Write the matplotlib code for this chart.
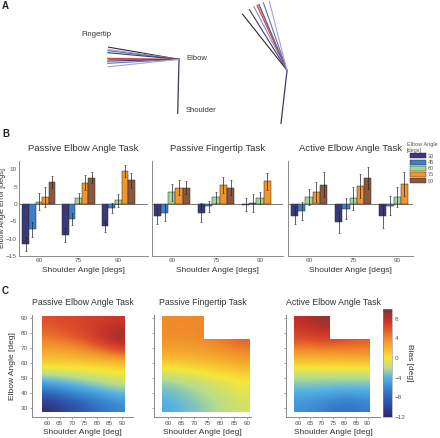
import numpy as np
import matplotlib
matplotlib.use("Agg")
import matplotlib.pyplot as plt
from matplotlib.colors import LinearSegmentedColormap
from matplotlib.patches import Patch, Polygon

plt.rcParams['font.family'] = ['Liberation Sans', 'DejaVu Sans']

W, H = 440, 438

# ---- data ----
shoulder_groups = ['60', '75', '90']
elbow_angles = ['30', '45', '60', '75', '90']
bar_colors = ['#3b3a78', '#3f7fc6', '#a6d49c', '#f0962c', '#8a5840']

# rows = shoulder angle group, cols = elbow angle
passive_elbow = [[-11.6, -7.3, 0.65, 2.1, 6.3],
                 [-9.0, -4.3, 1.7, 6.2, 7.6],
                 [-6.4, -1.1, 1.1, 9.5, 6.8]]
passive_elbow_err = [[2.0, 2.1, 2.4, 2.9, 1.7],
                     [2.0, 1.8, 1.5, 2.1, 1.5],
                     [1.6, 1.5, 1.9, 1.7, 2.2]]
passive_finger = [[-3.5, -2.5, 3.4, 4.7, 4.7],
                  [-2.5, -0.7, 1.9, 5.5, 4.7],
                  [-0.2, 0.3, 1.8, 6.5, np.nan]]
passive_finger_err = [[2.4, 2.4, 2.4, 2.1, 1.8],
                      [2.8, 1.5, 1.7, 2.2, 2.2],
                      [1.8, 2.5, 1.8, 2.4, np.nan]]
active_elbow = [[-3.4, -2.0, 2.0, 3.5, 5.6],
                [-5.2, -1.3, 1.6, 5.1, 7.5],
                [-3.5, -0.5, 2.1, 5.7, np.nan]]
active_elbow_err = [[2.5, 2.7, 2.2, 2.8, 3.5],
                    [3.3, 3.0, 3.2, 3.5, 3.1],
                    [3.3, 2.8, 2.9, 3.5, np.nan]]

# bias maps: rows elbow 90 -> 30 (step 10), cols shoulder 60 -> 90 (step 5)
bias_passive_elbow = [[6.0, 6.3, 6.5, 6.8, 7.0, 7.3, 7.5],
                      [4.8, 5.2, 5.8, 6.5, 7.5, 8.5, 9.3],
                      [2.8, 3.0, 3.3, 3.8, 4.5, 5.5, 6.5],
                      [1.0, 1.0, 1.0, 1.0, 1.0, 1.0, 1.2],
                      [-3.0, -2.6, -2.2, -1.8, -1.4, -1.0, -0.6],
                      [-7.0, -6.3, -5.6, -5.0, -4.4, -3.8, -3.2],
                      [-11.5, -10.5, -9.5, -8.5, -7.5, -6.8, -6.0]]
bias_passive_finger = [[4.0, 4.0, 4.0, 4.2, 4.5, 4.8, 5.0],
                       [3.8, 3.9, 4.0, 4.3, 4.8, 5.3, 5.8],
                       [3.0, 3.0, 3.1, 3.3, 3.6, 4.0, 4.4],
                       [1.0, 1.2, 1.4, 1.7, 2.0, 2.3, 2.6],
                       [-2.0, -1.6, -1.2, -0.8, -0.4, 0.0, 0.3],
                       [-3.5, -3.0, -2.5, -2.0, -1.5, -1.0, -0.5],
                       [-4.2, -3.7, -3.2, -2.6, -2.0, -1.5, -1.0]]
bias_active_elbow = [[8.0, 8.5, 9.0, 9.2, 9.2, 9.2, 9.2],
                     [6.5, 6.8, 7.2, 7.0, 6.5, 6.0, 5.5],
                     [4.0, 4.0, 4.1, 4.2, 4.3, 4.4, 4.5],
                     [1.0, 1.0, 1.0, 1.0, 1.0, 1.0, 1.0],
                     [-2.2, -2.2, -2.2, -2.2, -2.2, -2.2, -2.2],
                     [-4.0, -4.0, -4.1, -4.2, -4.3, -4.3, -4.2],
                     [-5.5, -5.8, -6.2, -6.8, -7.2, -7.0, -6.5]]

# arm postures (panel A), angles in degrees
left_upper_angle = 88.6
left_forearm_angles = [170.2, 172.0, 173.1, 174.7, 179.2, 180.0, 181.4, 183.2, 186.0]
left_colors = ['#2a2a2a', '#a9a2cf', '#6070b0', '#3a3a78', '#c84030', '#d06040',
               '#3a3a78', '#6070b0', '#a9a2cf']
right_upper_angle = 83.5
right_forearm_angles = [128.4, 121.8, 117.5, 114.8, 113.5, 113.0, 109.3, 104.4]
right_colors = ['#2a2a2a', '#3a3a78', '#8d88c4', '#c83a30', '#d06040',
                '#5566aa', '#6070b0', '#a9a2cf']

txt = '#333333'
tick_c = '#555555'
spine_c = '#8a8a8a'


def fr(x0, y0, x1, y1):
    return [x0 / W, 1 - y1 / H, (x1 - x0) / W, (y1 - y0) / H]


fig = plt.figure(figsize=(W / 100, H / 100), dpi=100)

# ---- panel A ----
axA = fig.add_axes([0, 0, 1, 1])
axA.set_xlim(0, W)
axA.set_ylim(H, 0)
axA.axis('off')
axA.set_zorder(-1)


def draw_arm(sx, sy, ua, fas, cols, ul=54, fl=71.5):
    ex = sx + ul * np.cos(np.radians(ua))
    ey = sy - ul * np.sin(np.radians(ua))
    axA.plot([sx, ex], [sy, ey], color='#3a3a6a', lw=0.9)
    for a, c in zip(fas, cols):
        fx = ex + fl * np.cos(np.radians(a))
        fy = ey - fl * np.sin(np.radians(a))
        axA.plot([ex, fx], [ey, fy], color=c, lw=0.8)
    return ex, ey


draw_arm(177.7, 113.3, left_upper_angle, left_forearm_angles, left_colors)
draw_arm(281, 123.3, right_upper_angle, right_forearm_angles, right_colors, ul=53.3)
axA.text(81, 35, 'Fingertip', fontsize=5.5, color=txt, va='center')
axA.text(186, 58, 'Elbow', fontsize=5.5, color=txt, va='center')
axA.text(186, 110, 'Shoulder', fontsize=5.5, color=txt, va='center')
for lab, y in [('A', 6), ('B', 134), ('C', 291)]:
    axA.text(2, y, lab, fontsize=7, fontweight='bold', color='#222222', va='center')

# ---- panel B ----
tasks = [('Passive Elbow Angle Task', passive_elbow, passive_elbow_err, fr(19, 160.7, 148, 256), (-0.5, 2.75)),
         ('Passive Fingertip Task', passive_finger, passive_finger_err, fr(152, 160.7, 283, 256), (-0.45, 2.52)),
         ('Active Elbow Angle Task', active_elbow, active_elbow_err, fr(288, 160.7, 413, 256), (-0.48, 2.36))]
bw = 0.165
x = np.arange(len(shoulder_groups))
for i, (title, vals, errs, pos, xl) in enumerate(tasks):
    ax = fig.add_axes(pos)
    vals = np.array(vals)
    errs = np.array(errs)
    ax.axhline(0, color='#7a7a7a', lw=0.7, zorder=1)
    for j in range(len(elbow_angles)):
        xx = x + (j - 2) * bw
        ax.bar(xx, vals[:, j], width=bw, color=bar_colors[j], edgecolor='#2a2a2a',
               linewidth=0.35, zorder=2)
        ax.errorbar(xx, vals[:, j], yerr=errs[:, j], fmt='none', ecolor='#222222',
                    elinewidth=0.5, capsize=1.0, capthick=0.4, zorder=3)
    ax.set_xlim(*xl)
    ax.set_ylim(-15, 12.5)
    ax.set_xticks(x)
    ax.set_xticklabels(shoulder_groups)
    ax.set_yticks([10, 5, 0, -5, -10, -15])
    for s in ['top', 'right']:
        ax.spines[s].set_visible(False)
    for s in ['left', 'bottom']:
        ax.spines[s].set_color(spine_c)
        ax.spines[s].set_linewidth(0.7)
    ax.tick_params(length=0, labelsize=4.6, colors=tick_c, pad=1.5)
    if i > 0:
        ax.set_yticklabels([])
    else:
        ax.set_ylabel('Elbow Angle Error [degs]', fontsize=5.2, color=txt)
        ax.yaxis.set_label_coords(-13 / 129, 0.5)
    ax.set_xlabel('Shoulder Angle [degs]', fontsize=6, color=txt, labelpad=3)
    ax.set_title(title, fontsize=6.8, color=txt, pad=7)

handles = [Patch(facecolor=c, edgecolor='#2a2a2a', linewidth=0.3) for c in bar_colors]
leg = fig.legend(handles, elbow_angles, title='Elbow Angle\n[degs]', fontsize=4.0,
                 title_fontsize=4.0, frameon=False, handlelength=2.8, handleheight=1.0,
                 labelspacing=0.15, handletextpad=0.3, borderpad=0,
                 loc='upper left', bbox_to_anchor=(404 / W, 1 - 139 / H))
for t in leg.get_texts():
    t.set_color(tick_c)
leg.get_title().set_color(tick_c)

# ---- panel C ----
cmap = LinearSegmentedColormap.from_list('bias', [
    (0.0, '#2d2a6e'), (2 / 22, '#30449a'), (4 / 22, '#2f62b8'), (6 / 22, '#3a88d0'),
    (8 / 22, '#55b0e4'), (10 / 22, '#b8dd8c'), (12 / 22, '#f5e639'), (14 / 22, '#f6b830'),
    (16 / 22, '#f08c2c'), (18 / 22, '#e0502a'), (20 / 22, '#c03028'), (1.0, '#6e3838')])

maps = [('Passive Elbow Angle Task', bias_passive_elbow, fr(32, 315, 133, 417), (54, 94.4), False),
        ('Passive Fingertip Task', bias_passive_finger, fr(154, 315, 251, 417), (54.7, 91.5), True),
        ('Active Elbow Angle Task', bias_active_elbow, fr(286, 315, 380, 417), (54.5, 95.4), True)]
ext = (57.8, 91.2, 27.5, 91.5)
for i, (title, grid, pos, xl, cut) in enumerate(maps):
    ax = fig.add_axes(pos)
    im = ax.imshow(np.array(grid), cmap=cmap, vmin=-12, vmax=10, extent=ext,
                   aspect='auto', interpolation='bicubic', origin='upper')
    if cut:
        shape = [(ext[0], ext[2]), (ext[1], ext[2]), (ext[1], 76), (73.5, 76),
                 (73.5, ext[3]), (ext[0], ext[3])]
    else:
        shape = [(ext[0], ext[2]), (ext[1], ext[2]), (ext[1], ext[3]), (ext[0], ext[3])]
    im.set_clip_path(Polygon(shape, closed=True, transform=ax.transData))
    ax.set_xlim(*xl)
    ax.set_ylim(24, 92)
    ax.set_xticks(np.arange(60, 91, 5))
    ax.set_yticks(np.arange(30, 91, 10))
    for s in ['top', 'right']:
        ax.spines[s].set_visible(False)
    for s in ['left', 'bottom']:
        ax.spines[s].set_color(spine_c)
        ax.spines[s].set_linewidth(0.7)
    ax.tick_params(length=1.5, width=0.4, labelsize=4.6, colors=tick_c, pad=1.5)
    if i > 0:
        ax.set_yticklabels([])
    else:
        ax.set_ylabel('Elbow Angle [deg]', fontsize=6, color=txt, labelpad=3)
    ax.set_xlabel('Shoulder Angle [deg]', fontsize=6, color=txt, labelpad=2)
    ax.set_title(title, fontsize=6.3, color=txt, pad=7)

cax = fig.add_axes(fr(383, 309, 392, 417))
cb = fig.colorbar(im, cax=cax, ticks=[8, 4, 0, -4, -8, -12])
cb.outline.set_linewidth(0.4)
cb.outline.set_edgecolor(spine_c)
cax.tick_params(length=0, labelsize=4.6, colors=tick_c, pad=2)
cb.set_label('Bias [deg]', fontsize=6, color=txt, rotation=-90, labelpad=5)

fig.savefig('out.png', dpi=100)
